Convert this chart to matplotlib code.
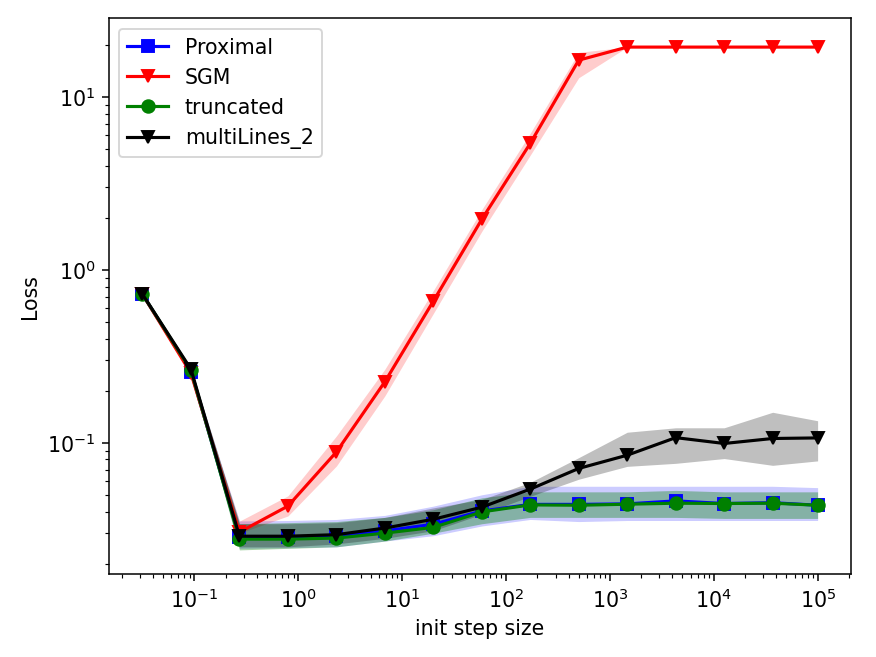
import numpy as np
import matplotlib
matplotlib.use("Agg")
from matplotlib import pyplot as plt

plt.rcParams["font.size"] = 10.8
plt.rcParams["lines.linewidth"] = 1.65
plt.rcParams["lines.markersize"] = 6.6

# step sizes (x axis)
steps = [0.0316, 0.0926, 0.271, 0.794, 2.33, 6.81, 20.0, 58.5, 171.0,
         501.0, 1468.0, 4300.0, 12600.0, 36900.0, 100000.0]

# mean loss per method
prox = [0.722, 0.258, 0.0284, 0.0284, 0.0288, 0.0309, 0.0338, 0.0403, 0.0440,
        0.0440, 0.0443, 0.0461, 0.0445, 0.0450, 0.0435]
sgm = [0.722, 0.252, 0.0304, 0.0430, 0.0885, 0.225, 0.660, 1.96, 5.38,
       16.3, 19.4, 19.4, 19.4, 19.4, 19.4]
trunc = [0.722, 0.262, 0.0277, 0.0277, 0.0281, 0.0300, 0.0324, 0.0398, 0.0437,
         0.0435, 0.0441, 0.0447, 0.0445, 0.0447, 0.0435]
multi = [0.722, 0.266, 0.0288, 0.0288, 0.0294, 0.0321, 0.0361, 0.0424, 0.0539,
         0.0710, 0.0847, 0.107, 0.0990, 0.1058, 0.1066]

# shaded ranges (lower, upper)
prox_lo = [0.715, 0.255, 0.0245, 0.0247, 0.025, 0.027, 0.029, 0.033, 0.036,
           0.035, 0.0355, 0.0355, 0.0355, 0.0355, 0.0355]
prox_hi = [0.73, 0.265, 0.0353, 0.0355, 0.036, 0.038, 0.043, 0.050, 0.056,
           0.056, 0.056, 0.056, 0.056, 0.056, 0.055]
sgm_lo = [0.715, 0.245, 0.030, 0.0377, 0.0734, 0.1865, 0.56, 1.67, 4.6,
          12.9, 19.4, 19.4, 19.4, 19.4, 19.4]
sgm_hi = [0.73, 0.258, 0.0352, 0.0493, 0.1095, 0.266, 0.76, 2.23, 6.16,
          18.1, 19.4, 19.4, 19.4, 19.4, 19.4]
trunc_lo = [0.715, 0.257, 0.024, 0.0245, 0.025, 0.027, 0.030, 0.034, 0.037,
            0.037, 0.037, 0.037, 0.0365, 0.0365, 0.0365]
trunc_hi = [0.73, 0.267, 0.034, 0.0345, 0.035, 0.037, 0.041, 0.048, 0.052,
            0.052, 0.052, 0.053, 0.052, 0.052, 0.052]
multi_lo = [0.715, 0.26, 0.025, 0.025, 0.026, 0.028, 0.031, 0.0386, 0.049,
            0.0615, 0.073, 0.076, 0.081, 0.074, 0.0785]
multi_hi = [0.73, 0.272, 0.034, 0.034, 0.0345, 0.037, 0.042, 0.047, 0.059,
            0.082, 0.115, 0.122, 0.122, 0.150, 0.134]

fig, ax = plt.subplots(figsize=(6.4, 4.8), dpi=137)

series = [
    ("Proximal", prox, prox_lo, prox_hi, "b", "s", 0.2),
    ("SGM", sgm, sgm_lo, sgm_hi, "r", "v", 0.2),
    ("truncated", trunc, trunc_lo, trunc_hi, "g", "o", 0.35),
    ("multiLines_2", multi, multi_lo, multi_hi, "k", "v", 0.25),
]
for name, y, lo, hi, c, m, a in series:
    ax.plot(steps, y, color=c, marker=m, label=name)
    ax.fill_between(steps, lo, hi, color=c, alpha=a, linewidth=0)

ax.set_xscale("log")
ax.set_yscale("log")
ax.set_ylim(0.01738, 28.4)
ax.set_xlabel("init step size")
ax.set_ylabel("Loss")
ax.legend(loc="upper left")

plt.subplots_adjust(left=0.124, right=0.971, bottom=0.126, top=0.971)
plt.savefig("out.png")
